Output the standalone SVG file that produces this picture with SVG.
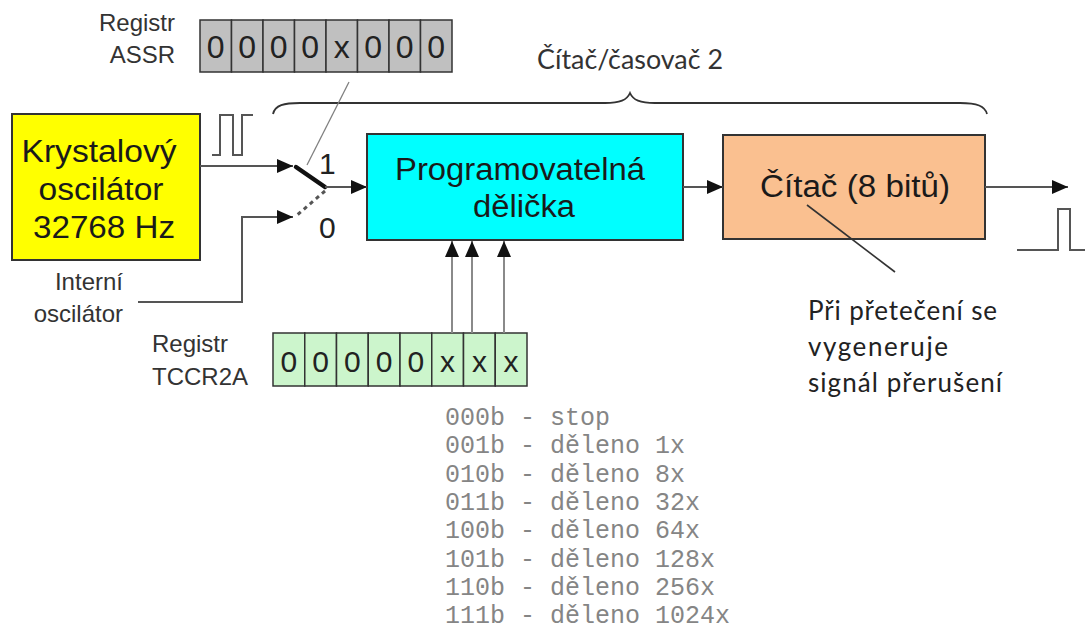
<svg xmlns="http://www.w3.org/2000/svg" width="1085" height="644" viewBox="0 0 1085 644">
  <defs>
    <marker id="arrow" markerUnits="userSpaceOnUse" markerWidth="17" markerHeight="15" refX="16" refY="7" orient="auto">
      <path d="M0,0 L16,7 L0,14 z" fill="#111"/>
    </marker>
    <style>
      .sans { font-family: "Liberation Sans", Arial, sans-serif; }
      .hum { font-family: Lato, "Open Sans", sans-serif; }
      .mono { font-family: "Liberation Mono", "Courier New", monospace; font-size: 25px; fill: #858585; }
      .wire { fill: none; stroke: #555; stroke-width: 2; }
      .thin { fill: none; stroke: #808080; stroke-width: 1.3; }
      .ctl { fill: none; stroke: #8a8a8a; stroke-width: 2; }
      .box { stroke: #333; stroke-width: 2; }
      .cell { stroke: #333; stroke-width: 1.5; }
      .bit { font-family: "Liberation Sans", Arial, sans-serif; text-anchor: middle; fill: #222; }
      .label { font-family: "Liberation Sans", Arial, sans-serif; font-size: 24px; fill: #333; }
      .big { font-family: "Liberation Sans", Arial, sans-serif; font-size: 31px; fill: #1a1a1a; text-anchor: middle; }
    </style>
  </defs>
  <rect width="1085" height="644" fill="#fff"/>

  <!-- ASSR register -->
  <g id="assr">
    <text class="label" x="175" y="31" text-anchor="end">Registr</text>
    <text class="label" x="175" y="63" text-anchor="end">ASSR</text>
    <g fill="#c0c0c0">
      <rect class="cell" x="200" y="20" width="31.5" height="52"/>
      <rect class="cell" x="231.5" y="20" width="31.5" height="52"/>
      <rect class="cell" x="263" y="20" width="31.5" height="52"/>
      <rect class="cell" x="294.5" y="20" width="31.5" height="52"/>
      <rect class="cell" x="326" y="20" width="31.5" height="52"/>
      <rect class="cell" x="357.5" y="20" width="31.5" height="52"/>
      <rect class="cell" x="389" y="20" width="31.5" height="52"/>
      <rect class="cell" x="420.5" y="20" width="31.5" height="52"/>
    </g>
    <g class="bit" font-size="32">
      <text x="215.75" y="58">0</text>
      <text x="247.25" y="58">0</text>
      <text x="278.75" y="58">0</text>
      <text x="310.25" y="58">0</text>
      <text x="341.75" y="58">x</text>
      <text x="373.25" y="58">0</text>
      <text x="404.75" y="58">0</text>
      <text x="436.25" y="58">0</text>
    </g>
  </g>

  <!-- timer/counter 2 brace and title -->
  <g id="timer-brace">
    <text class="hum" x="537" y="69" font-size="26" fill="#333" textLength="186" lengthAdjust="spacingAndGlyphs">Čítač/časovač 2</text>
    <path d="M273,114 C275,105 284,103 300,103 L605,103 C620,103 627,100 630,93 C633,100 640,103 655,103 L960,103 C977,103 985,106 987,114" fill="none" stroke="#333" stroke-width="1.8"/>
  </g>

  <!-- crystal oscillator -->
  <g id="crystal">
    <rect class="box" x="12" y="114" width="188" height="146" fill="#ffff00" stroke="#55550f"/>
    <text class="big" x="99" y="162" font-size="32" textLength="155" lengthAdjust="spacingAndGlyphs">Krystalový</text>
    <text class="big" x="101" y="200" font-size="32" textLength="125" lengthAdjust="spacingAndGlyphs">oscilátor</text>
    <text class="big" x="104" y="238" font-size="32" textLength="142" lengthAdjust="spacingAndGlyphs">32768 Hz</text>
    <path class="wire" d="M212,155 L220,155 L220,115 L233,115 L233,155 L242,155 L242,115 L253,115"/>
  </g>

  <!-- internal oscillator label -->
  <g id="internal">
    <text class="label" x="123" y="290" text-anchor="end">Interní</text>
    <text class="label" x="123" y="322" text-anchor="end">oscilátor</text>
  </g>

  <!-- clock source switch -->
  <g id="switch">
    <line x1="296" y1="167" x2="325" y2="187" stroke="#111" stroke-width="4.5" stroke-linecap="round"/>
    <line x1="325" y1="191" x2="296" y2="216" stroke="#555" stroke-width="3" stroke-dasharray="4,4"/>
    <text class="sans" x="319" y="174" font-size="30" fill="#222">1</text>
    <text class="sans" x="319" y="238" font-size="30" fill="#222">0</text>
  </g>

  <!-- programmable prescaler -->
  <g id="prescaler">
    <rect class="box" x="367" y="134" width="316" height="106" fill="#00ffff" stroke="#2a4545"/>
    <text class="big" x="520" y="180" textLength="250" lengthAdjust="spacingAndGlyphs">Programovatelná</text>
    <text class="big" x="524" y="217" textLength="102" lengthAdjust="spacingAndGlyphs">dělička</text>
  </g>

  <!-- 8-bit counter -->
  <g id="counter">
    <rect class="box" x="723" y="135" width="262" height="104" fill="#fac090" stroke="#3a2d20"/>
    <text class="big" x="855" y="197" textLength="190" lengthAdjust="spacingAndGlyphs">Čítač (8 bitů)</text>
    <path class="wire" d="M1017,250 L1058,250 L1058,209 L1070,209 L1070,250 L1085,250"/>
  </g>

  <!-- overflow note -->
  <g id="overflow-note">
    <line x1="807" y1="205" x2="895" y2="272" stroke="#333" stroke-width="1.6"/>
    <text class="hum" font-size="26" fill="#222" lengthAdjust="spacingAndGlyphs">
      <tspan x="808" y="320" textLength="189">Při přetečení se</tspan>
      <tspan x="808" y="356" textLength="140">vygeneruje</tspan>
      <tspan x="808" y="392" textLength="194">signál přerušení</tspan>
    </text>
  </g>

  <!-- TCCR2A register -->
  <g id="tccr2a">
    <text class="label" x="152" y="352">Registr</text>
    <text class="label" x="152" y="385">TCCR2A</text>
    <g fill="#ccf5cc">
      <rect class="cell" x="273" y="333" width="31.75" height="53"/>
      <rect class="cell" x="304.75" y="333" width="31.75" height="53"/>
      <rect class="cell" x="336.5" y="333" width="31.75" height="53"/>
      <rect class="cell" x="368.25" y="333" width="31.75" height="53"/>
      <rect class="cell" x="400" y="333" width="31.75" height="53"/>
      <rect class="cell" x="431.75" y="333" width="31.75" height="53"/>
      <rect class="cell" x="463.5" y="333" width="31.75" height="53"/>
      <rect class="cell" x="495.25" y="333" width="31.75" height="53"/>
    </g>
    <g class="bit" font-size="30">
      <text x="288.9" y="372">0</text>
      <text x="320.6" y="372">0</text>
      <text x="352.4" y="372">0</text>
      <text x="384.1" y="372">0</text>
      <text x="415.9" y="372">0</text>
      <text x="447.6" y="372">x</text>
      <text x="479.4" y="372">x</text>
      <text x="511.1" y="372">x</text>
    </g>
  </g>

  <!-- prescaler settings -->
  <g id="prescaler-table" class="mono" xml:space="preserve">
    <text x="445" y="425">000b - stop</text>
    <text x="445" y="453.3">001b - děleno 1x</text>
    <text x="445" y="481.7">010b - děleno 8x</text>
    <text x="445" y="510">011b - děleno 32x</text>
    <text x="445" y="538.3">100b - děleno 64x</text>
    <text x="445" y="566.7">101b - děleno 128x</text>
    <text x="445" y="595">110b - děleno 256x</text>
    <text x="445" y="623.3">111b - děleno 1024x</text>
  </g>

  <!-- connectors -->
  <g id="connectors">
    <line class="wire" x1="200" y1="166" x2="293" y2="166" marker-end="url(#arrow)"/>
    <polyline class="wire" points="138,302 242,302 242,217 293,217" marker-end="url(#arrow)"/>
    <line class="wire" x1="325" y1="187" x2="367" y2="187" marker-end="url(#arrow)"/>
    <line class="wire" x1="683" y1="187" x2="723" y2="187" marker-end="url(#arrow)"/>
    <line class="wire" x1="985" y1="187" x2="1068" y2="187" marker-end="url(#arrow)"/>
    <line class="thin" x1="349" y1="82" x2="307" y2="165"/>
    <line class="ctl" x1="452" y1="333" x2="452" y2="241" marker-end="url(#arrow)"/>
    <line class="ctl" x1="472" y1="333" x2="472" y2="241" marker-end="url(#arrow)"/>
    <line class="ctl" x1="504" y1="333" x2="504" y2="241" marker-end="url(#arrow)"/>
  </g>
</svg>
